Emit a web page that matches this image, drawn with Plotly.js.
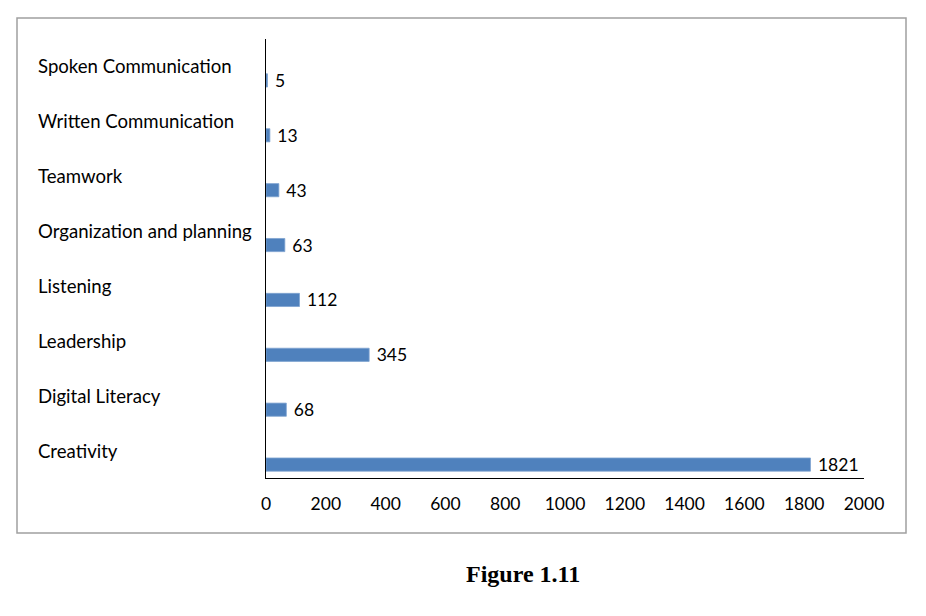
<!DOCTYPE html>
<html>
<head>
<meta charset="utf-8">
<script src="https://cdn.plot.ly/plotly-3.0.1.min.js"></script>
<style>html,body{margin:0;padding:0;background:#fff;}#chart{width:926px;height:616px;}</style>
</head>
<body>
<div id="chart"></div>
<script>
const categories = ["Creativity", "Digital Literacy", "Leadership", "Listening", "Organization and planning", "Teamwork", "Written Communication", "Spoken Communication"];
const values = [1821, 68, 345, 112, 63, 43, 13, 5];
const xTicks = [0, 200, 400, 600, 800, 1000, 1200, 1400, 1600, 1800, 2000];
const caption = "Figure 1.11";

const FONT = "Lato, 'Open Sans', sans-serif";
const plotL = 266, plotR = 864, plotT = 39, plotB = 478;
const pw = plotR - plotL, ph = plotB - plotT;
const px = x => (x - plotL) / pw;
const py = y => (plotB - y) / ph;

const trace = {
  type: 'bar',
  orientation: 'h',
  x: values,
  y: categories,
  offset: -0.375,
  width: 0.24,
  marker: {color: '#4F81BD', line: {color: '#7FA3D1', width: 0.8}},
  text: values.map(v => '\u00a0' + v),
  textposition: 'outside',
  constraintext: 'none',
  cliponaxis: false,
  textfont: {family: FONT, size: 17.5, color: '#000'},
  hoverinfo: 'skip'
};

const annotations = categories.map(c => ({
  xref: 'paper', yref: 'y', x: px(36), y: c, xanchor: 'left', yanchor: 'middle',
  text: c, showarrow: false, font: {family: FONT, size: 18.6, color: '#000'}
}));
annotations.push({
  xref: 'paper', yref: 'paper', x: px(523), y: py(574), xanchor: 'center', yanchor: 'middle',
  text: '<b>' + caption + '</b>', showarrow: false,
  font: {family: "'Liberation Serif', 'Times New Roman', serif", size: 24, color: '#000'}
});

const layout = {
  width: 926, height: 616,
  margin: {l: plotL, r: 926 - plotR, t: plotT, b: 616 - plotB, pad: 0},
  paper_bgcolor: '#fff', plot_bgcolor: '#fff',
  showlegend: false,
  xaxis: {
    range: [0, 2000], tickvals: xTicks, ticktext: xTicks.map(String),
    showgrid: false, zeroline: false, showline: true, linecolor: '#000', linewidth: 1,
    ticks: 'outside', ticklen: 10, tickcolor: 'rgba(0,0,0,0)',
    tickfont: {family: FONT, size: 17.5, color: '#000'}, fixedrange: true
  },
  yaxis: {
    type: 'category', categoryorder: 'array', categoryarray: categories,
    range: [-0.5, 7.5], showticklabels: false, ticks: '',
    showgrid: false, zeroline: false, showline: true, linecolor: '#000', linewidth: 1, fixedrange: true
  },
  shapes: [{
    type: 'rect', xref: 'paper', yref: 'paper',
    x0: px(17), x1: px(906), y0: py(533), y1: py(18),
    line: {color: '#a0a0a0', width: 1.5}, fillcolor: 'rgba(0,0,0,0)', layer: 'below'
  }],
  annotations: annotations
};

Plotly.newPlot('chart', [trace], layout, {staticPlot: true, displayModeBar: false});
</script>
</body>
</html>
